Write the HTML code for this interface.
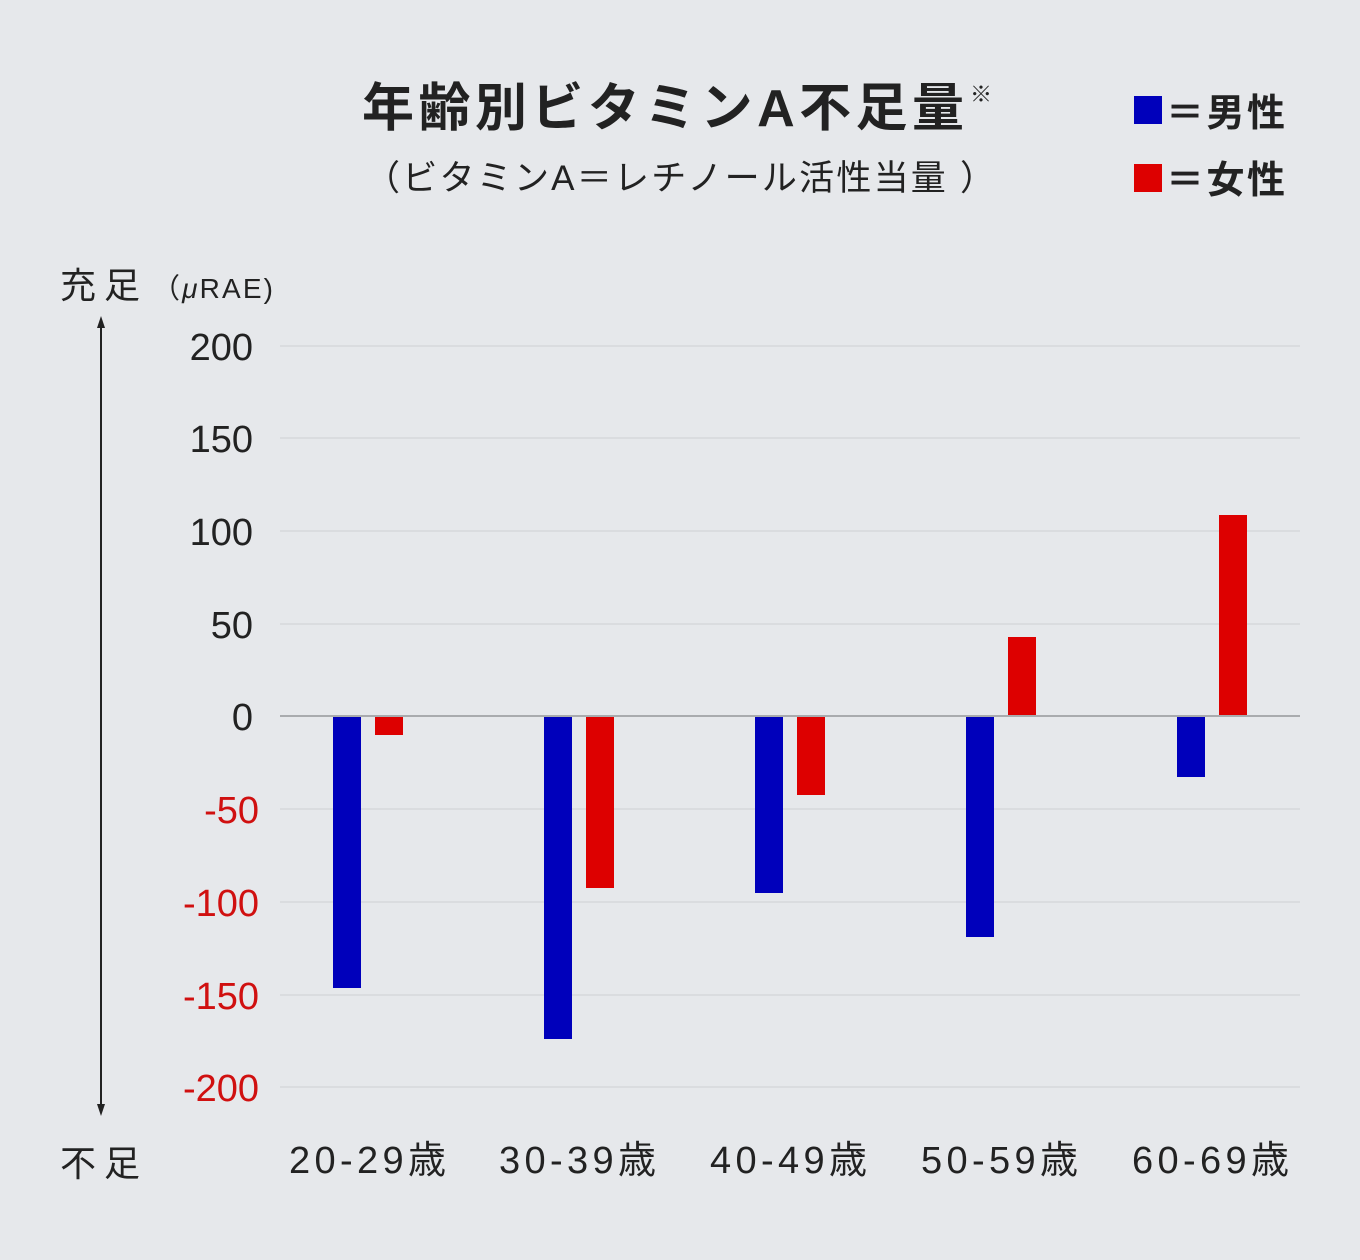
<!DOCTYPE html>
<html><head><meta charset="utf-8"><style>
body{margin:0;background:#e6e8eb;}
svg{display:block}
text{font-family:"Liberation Sans","Noto Sans CJK JP",sans-serif;}
</style></head><body>
<svg width="1360" height="1260" viewBox="0 0 1360 1260" xmlns="http://www.w3.org/2000/svg">
<rect width="1360" height="1260" fill="#e6e8eb"/>
<text x="362" y="126" font-size="52" font-weight="bold" fill="#222" textLength="602" lengthAdjust="spacing">年齢別ビタミンA不足量</text>
<text x="970" y="102" font-size="22" fill="#222">※</text>
<text x="365" y="190" font-size="35" fill="#222" textLength="630" lengthAdjust="spacing">（ビタミンA＝レチノール活性当量 ）</text>
<rect x="1134" y="96" width="28" height="28" fill="#0000bb"/>
<text x="1166" y="126" font-size="38" font-weight="bold" fill="#222" textLength="119" lengthAdjust="spacing">＝男性</text>
<rect x="1134" y="164" width="28" height="28" fill="#dd0000"/>
<text x="1166" y="193" font-size="38" font-weight="bold" fill="#222" textLength="119" lengthAdjust="spacing">＝女性</text>
<text x="60" y="298" font-size="36" fill="#222" textLength="80">充足</text>
<text x="152" y="298" font-size="28" fill="#222" textLength="121">（<tspan font-style="italic">μ</tspan>RAE)</text>
<text x="60" y="1176" font-size="36" fill="#222" textLength="80">不足</text>
<line x1="101" y1="322" x2="101" y2="1110" stroke="#222" stroke-width="2"/>
<polygon points="101,316 97,328 105,328" fill="#222"/>
<polygon points="101,1116 97,1104 105,1104" fill="#222"/>
<g stroke="#d6d8db" stroke-width="1.5">
<line x1="280" y1="346" x2="1300" y2="346"/><line x1="280" y1="438" x2="1300" y2="438"/>
<line x1="280" y1="531" x2="1300" y2="531"/><line x1="280" y1="624" x2="1300" y2="624"/>
<line x1="280" y1="809" x2="1300" y2="809"/><line x1="280" y1="902" x2="1300" y2="902"/>
<line x1="280" y1="995" x2="1300" y2="995"/><line x1="280" y1="1087" x2="1300" y2="1087"/>
</g>
<g font-size="38" text-anchor="end">
<text x="253" y="360" fill="#222">200</text><text x="253" y="452" fill="#222">150</text>
<text x="253" y="545" fill="#222">100</text><text x="253" y="638" fill="#222">50</text>
<text x="253" y="730" fill="#222">0</text>
<text x="259" y="823" fill="#d01010">-50</text><text x="259" y="916" fill="#d01010">-100</text>
<text x="259" y="1009" fill="#d01010">-150</text><text x="259" y="1101" fill="#d01010">-200</text>
</g>
<g fill="#0000bb">
<rect x="333" y="716" width="28" height="272"/>
<rect x="544" y="716" width="28" height="323"/>
<rect x="755" y="716" width="28" height="177"/>
<rect x="966" y="716" width="28" height="221"/>
<rect x="1177" y="716" width="28" height="61"/>
</g>
<g fill="#dd0000">
<rect x="375" y="716" width="28" height="19"/>
<rect x="586" y="716" width="28" height="172"/>
<rect x="797" y="716" width="28" height="79"/>
<rect x="1008" y="637" width="28" height="79"/>
<rect x="1219" y="515" width="28" height="201"/>
</g>
<line x1="280" y1="716" x2="1300" y2="716" stroke="#a9abae" stroke-width="2"/>
<g font-size="38" fill="#222">
<text x="289" y="1173" textLength="157">20-29歳</text><text x="499" y="1173" textLength="157">30-39歳</text>
<text x="710" y="1173" textLength="157">40-49歳</text><text x="921" y="1173" textLength="157">50-59歳</text>
<text x="1132" y="1173" textLength="157">60-69歳</text>
</g>
</svg>
</body></html>
